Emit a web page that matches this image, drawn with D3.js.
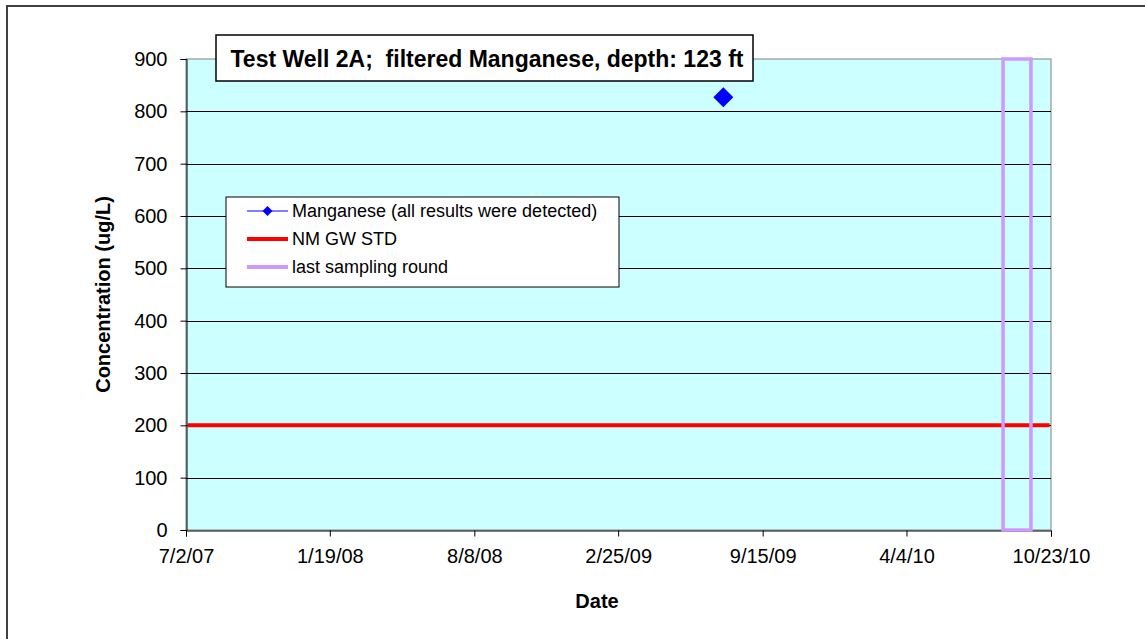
<!DOCTYPE html>
<html><head><meta charset="utf-8">
<script src="https://cdn.jsdelivr.net/npm/d3@7"></script>
<style>
html,body{margin:0;padding:0;background:#fff;}
svg text{font-family:Arial,"Liberation Sans",sans-serif;}
</style></head>
<body>
<svg id="chart" width="1145" height="639"></svg>
<script>
// ---- data ----
const mnDates = ["2009-07-22"];
const mnValues = [827];
const stdDates = ["2007-07-04", "2010-10-21"];
const stdValues = [200, 200];
const lastRoundDates = ["2010-08-17", "2010-09-25"];
const lastRoundValues = [0, 900];
const xTickDates = ["2007-07-02","2008-01-19","2008-08-08","2009-02-25","2009-09-15","2010-04-04","2010-10-23"];
const xTickLabels = ["7/2/07","1/19/08","8/8/08","2/25/09","9/15/09","4/4/10","10/23/10"];
const yTicks = [0,100,200,300,400,500,600,700,800,900];
const titleText = "Test Well 2A;  filtered Manganese, depth: 123 ft";
const legendLabels = ["Manganese (all results were detected)","NM GW STD","last sampling round"];

const svg = d3.select("#chart");
const P = {l:186, r:1051, t:59, b:530};
const parse = d3.utcParse("%Y-%m-%d");

const x = d3.scaleUtc().domain([parse(xTickDates[0]), parse(xTickDates[xTickDates.length-1])]).range([P.l, P.r]);
const y = d3.scaleLinear().domain([0, 900]).range([P.b, P.t]);

// outer border
svg.append("rect").attr("x",7).attr("y",6).attr("width",1160).attr("height",660)
  .attr("fill","none").attr("stroke","#404040").attr("stroke-width",2);

// plot background
svg.append("rect").attr("x",P.l).attr("y",P.t).attr("width",P.r-P.l).attr("height",P.b-P.t)
  .attr("fill","#CCFFFF").attr("stroke","#808080").attr("stroke-width",1);

// gridlines
svg.append("g").selectAll("line").data(yTicks.filter(d=>d>0 && d<900)).join("line")
  .attr("x1",P.l).attr("x2",P.r).attr("y1",d=>Math.round(y(d))+0.5).attr("y2",d=>Math.round(y(d))+0.5)
  .attr("stroke","#000").attr("stroke-width",1);

// y axis
const yAxis = d3.axisLeft(y).tickValues(yTicks).tickSize(6).tickPadding(13);
const gy = svg.append("g").attr("transform",`translate(${P.l+0.5},0)`).call(yAxis);
gy.selectAll("text").attr("font-size",20).attr("fill","#000").attr("font-family","Arial, Liberation Sans");
gy.select(".domain").attr("stroke","#000");
gy.selectAll(".tick line").attr("stroke","#000");

// x axis
const xAxis = d3.axisBottom(x).tickValues(xTickDates.map(parse)).tickSize(6).tickPadding(12)
  .tickFormat((d,i)=>xTickLabels[i]);
const gx = svg.append("g").attr("transform",`translate(0,${P.b+0.5})`).call(xAxis);
gx.selectAll("text").attr("font-size",20).attr("fill","#000").attr("font-family","Arial, Liberation Sans");
gx.select(".domain").attr("stroke","#000");
gx.selectAll(".tick line").attr("stroke","#000");

// NM GW STD line
const line = d3.line().x(d=>x(d[0])).y(d=>y(d[1]));
svg.append("path").datum(stdDates.map((d,i)=>[parse(d),stdValues[i]]))
  .attr("d",line).attr("fill","none").attr("stroke","#FF0000").attr("stroke-width",4);

// last sampling round rectangle
const x0 = x(parse(lastRoundDates[0])), x1 = x(parse(lastRoundDates[1]));
const y0 = y(lastRoundValues[0]), y1 = y(lastRoundValues[1]);
svg.append("path").attr("d",`M${x0},${y0}L${x0},${y1}L${x1},${y1}L${x1},${y0}Z`)
  .attr("fill","none").attr("stroke","#CC99FF").attr("stroke-width",3.5);

// diamond marker
function diamond(cx,cy,r){return `M${cx},${cy-r}L${cx+r},${cy}L${cx},${cy+r}L${cx-r},${cy}Z`;}
svg.append("g").selectAll("path").data(mnDates.map((d,i)=>[parse(d),mnValues[i]])).join("path")
  .attr("d",d=>diamond(x(d[0]),y(d[1]),10)).attr("fill","#0000FF");

// axis titles
svg.append("text").attr("x",597).attr("y",608).attr("text-anchor","middle")
  .attr("font-size",20).attr("font-weight","bold").text("Date");
svg.append("text").attr("transform",`translate(110,${(P.t+P.b)/2}) rotate(-90)`).attr("text-anchor","middle")
  .attr("font-size",20).attr("font-weight","bold").text("Concentration (ug/L)");

// title box
svg.append("rect").attr("x",216).attr("y",35).attr("width",537).attr("height",46)
  .attr("fill","#fff").attr("stroke","#000").attr("stroke-width",1.5);
svg.append("text").attr("x",487).attr("y",67).attr("text-anchor","middle")
  .attr("font-size",23).attr("font-weight","bold").style("white-space","pre").text(titleText);

// legend
const lg = svg.append("g");
lg.append("rect").attr("x",226).attr("y",197).attr("width",393).attr("height",90)
  .attr("fill","#fff").attr("stroke","#000").attr("stroke-width",1);
const rowsY = [211, 239, 267];
lg.append("line").attr("x1",247).attr("x2",288).attr("y1",rowsY[0]).attr("y2",rowsY[0]).attr("stroke","#0000FF").attr("stroke-width",1);
lg.append("path").attr("d",diamond(267.5,rowsY[0],5)).attr("fill","#0000FF");
lg.append("line").attr("x1",247).attr("x2",288).attr("y1",rowsY[1]).attr("y2",rowsY[1]).attr("stroke","#FF0000").attr("stroke-width",4);
lg.append("line").attr("x1",247).attr("x2",288).attr("y1",rowsY[2]).attr("y2",rowsY[2]).attr("stroke","#CC99FF").attr("stroke-width",4);
lg.selectAll("text").data(legendLabels).join("text")
  .attr("x",292).attr("y",(d,i)=>rowsY[i]+6).attr("font-size",18).text(d=>d);
</script>
</body></html>
